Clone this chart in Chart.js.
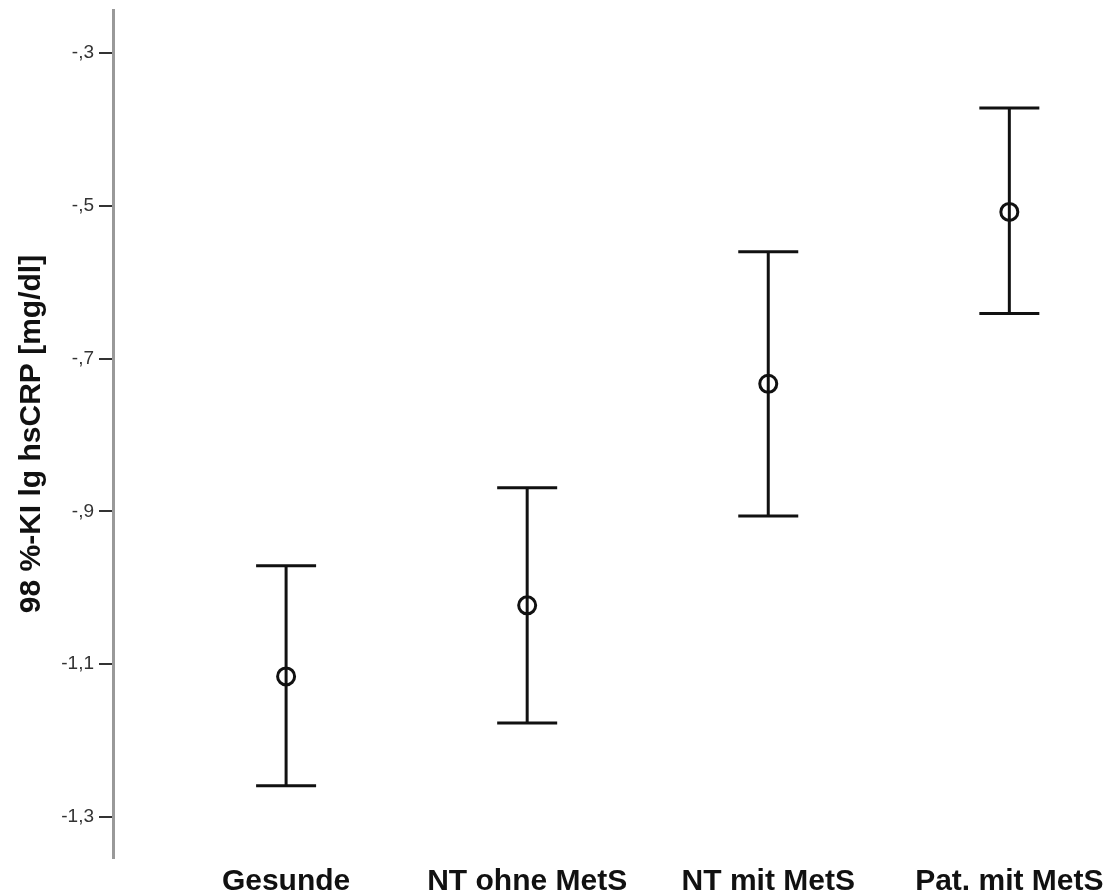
<!DOCTYPE html>
<html>
<head>
<meta charset="utf-8">
<script src="https://cdn.jsdelivr.net/npm/chart.js@4.4.1/dist/chart.umd.min.js"></script>
<style>
    body { margin: 0; background: #fff; }
    #chartBox { width: 1113px; height: 895px; }
</style>
</head>
<body>
<div id="chartBox"><canvas id="ciChart"></canvas></div>
<script>
// Gruppen und 98%-KI von lg hsCRP
const categories = ['Gesunde', 'NT ohne MetS', 'NT mit MetS', 'Pat. mit MetS'];
const xPositions = [1, 2, 3, 4];
const means = [-1.116, -1.023, -0.733, -0.508];
const lower = [-1.259, -1.177, -0.906, -0.641];
const upper = [-0.971, -0.869, -0.560, -0.372];
const yTickValues = [-1.3, -1.1, -0.9, -0.7, -0.5, -0.3];
const yTickLabels = ['-1,3', '-1,1', '-,9', '-,7', '-,5', '-,3'];

let datasets = [];

// senkrechte Linien der Fehlerbalken
categories.forEach((cat, i) => {
    datasets.push({
        type: 'scatter',
        showLine: true,
        data: [{x: xPositions[i], y: lower[i]}, {x: xPositions[i], y: upper[i]}],
        borderColor: '#111',
        borderWidth: 3,
        pointRadius: 0
    });
});

// Querstriche oben und unten
datasets.push({
    type: 'scatter',
    data: xPositions.map((x, i) => ({x: x, y: upper[i]})).concat(xPositions.map((x, i) => ({x: x, y: lower[i]}))),
    pointStyle: 'line',
    pointRadius: 30,
    borderColor: '#111',
    borderWidth: 3
});

// Mittelwerte
datasets.push({
    type: 'scatter',
    data: xPositions.map((x, i) => ({x: x, y: means[i]})),
    pointStyle: 'circle',
    pointRadius: 8.5,
    backgroundColor: 'rgba(0,0,0,0)',
    borderColor: '#111',
    borderWidth: 3
});

const noPadding = (scale) => {
    scale.paddingTop = 0;
    scale.paddingBottom = 0;
    scale.paddingLeft = 0;
    scale.paddingRight = 0;
};

new Chart(document.getElementById('ciChart'), {
    type: 'scatter',
    data: { datasets: datasets },
    options: {
        responsive: true,
        maintainAspectRatio: false,
        animation: false,
        layout: { autoPadding: false, padding: { top: 10, right: 0, bottom: 0, left: 0 } },
        scales: {
            x: {
                type: 'linear',
                min: 0.282,
                max: 4.43,
                grid: { display: false, drawTicks: false },
                border: { display: false },
                afterBuildTicks: (scale) => {
                    scale.ticks = xPositions.map(v => ({value: v}));
                },
                afterFit: (scale) => { scale.height = 37; noPadding(scale); },
                ticks: {
                    autoSkip: false,
                    maxRotation: 0,
                    padding: 6,
                    color: '#111',
                    font: { family: 'Liberation Sans, Arial', size: 30, weight: 'bold' },
                    callback: (value) => categories[xPositions.indexOf(value)]
                }
            },
            y: {
                min: -1.3537,
                max: -0.2437,
                grid: {
                    display: true,
                    drawOnChartArea: false,
                    tickLength: 14,
                    color: '#333',
                    lineWidth: 2
                },
                border: { display: true, color: '#999', width: 3 },
                afterBuildTicks: (scale) => {
                    scale.ticks = yTickValues.map(v => ({value: v}));
                },
                afterFit: (scale) => { scale.width = 113; noPadding(scale); },
                ticks: {
                    padding: 5,
                    color: '#333',
                    font: { family: 'Liberation Sans, Arial', size: 19 },
                    callback: (value) => yTickLabels[yTickValues.indexOf(value)]
                },
                title: {
                    display: true,
                    text: '98 %-KI lg hsCRP [mg/dl]',
                    color: '#111',
                    padding: { top: 14, bottom: 0 },
                    font: { family: 'Liberation Sans, Arial', size: 30, weight: 'bold' }
                }
            }
        },
        plugins: {
            legend: { display: false },
            tooltip: { enabled: false }
        }
    }
});
</script>
</body>
</html>
